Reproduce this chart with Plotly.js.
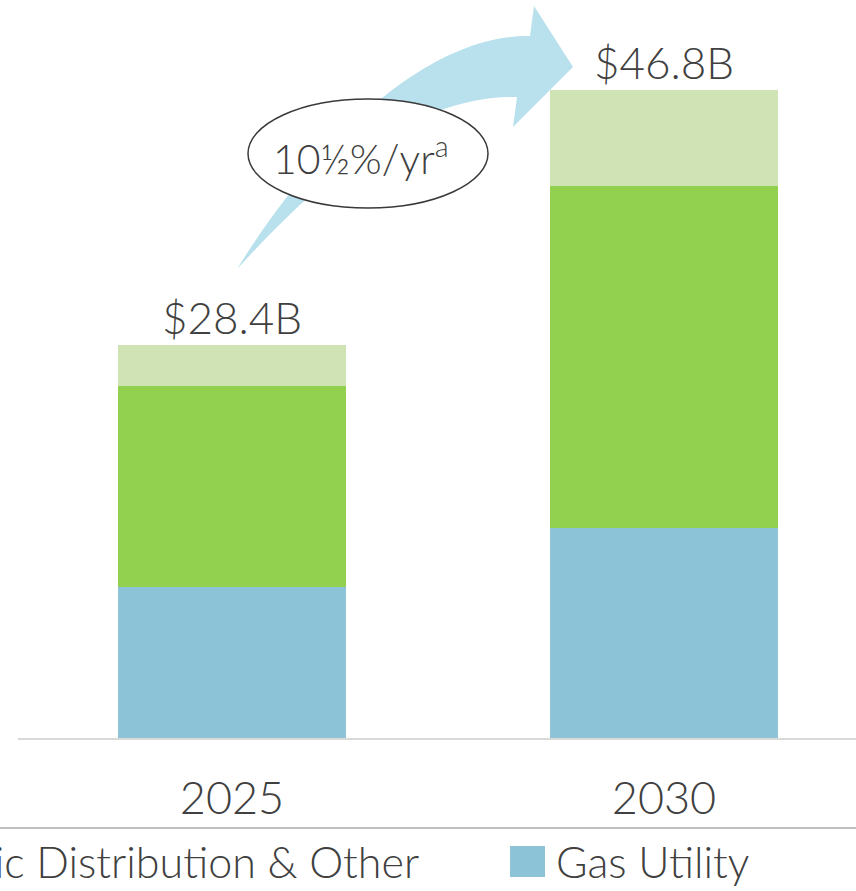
<!DOCTYPE html>
<html>
<head>
<meta charset="utf-8">
<script src="https://cdn.plot.ly/plotly-3.0.1.min.js"></script>
<style>
  html, body { margin: 0; padding: 0; background: #ffffff; overflow: hidden; }
  #chart { width: 856px; height: 891px; }
</style>
</head>
<body>
<div id="chart"></div>
<script>
// ---- data ----
const categories = ['2025', '2030'];
const seriesNames = ['Gas Utility', 'Electric Distribution & Other', 'Electric Transmission'];
const gasUtility = [10.9, 15.2];
const elecDistOther = [14.5, 24.7];
const elecTop = [3.0, 6.9];
const cagrLabel = '10½%/yr<sup>a</sup>';

// ---- styles ----
const colors = ['#8DC3D7', '#92D050', '#CFE3B5'];
const textColor = '#404040';
const fontFamily = 'Lato, "Open Sans", sans-serif';

const W = 856, H = 891;
const M = {l: 18, r: 0, t: 0, b: 153};
const plotW = W - M.l - M.r, plotH = H - M.t - M.b;
const px2x = p => (p - M.l) / plotW;
const py2y = p => (M.t + plotH - p) / plotH;

const seriesValues = [gasUtility, elecDistOther, elecTop];
const totals = categories.map((c, i) => seriesValues.reduce((s, arr) => s + arr[i], 0));

const traces = seriesValues.map((vals, k) => ({
  type: 'bar',
  x: categories,
  y: vals,
  name: seriesNames[k],
  width: 0.528,
  marker: {color: colors[k], line: {width: 0}},
  hoverinfo: 'skip'
}));

const annotations = [];
categories.forEach((c, i) => {
  annotations.push({
    x: i, y: totals[i], xref: 'x', yref: 'y',
    text: '&#36;' + totals[i].toFixed(1) + 'B',
    showarrow: false, xanchor: 'center', yanchor: 'bottom', yshift: 0,
    font: {family: fontFamily, size: 44, color: textColor, weight: 300}
  });
});
// CAGR label
annotations.push({
  x: px2x(361), y: py2y(156), xref: 'paper', yref: 'paper',
  text: cagrLabel, showarrow: false, xanchor: 'center', yanchor: 'middle',
  font: {family: fontFamily, size: 41, color: textColor, weight: 300}
});
// legend (clipped at left edge as in the reference)
annotations.push({
  x: px2x(421), y: py2y(861), xref: 'paper', yref: 'paper',
  text: seriesNames[1], showarrow: false, xanchor: 'right', yanchor: 'middle',
  font: {family: fontFamily, size: 43, color: textColor, weight: 300}
});
annotations.push({
  x: px2x(554), y: py2y(861), xref: 'paper', yref: 'paper',
  text: seriesNames[0], showarrow: false, xanchor: 'left', yanchor: 'middle',
  font: {family: fontFamily, size: 43, color: textColor, weight: 300}
});

const pt = (x, y) => px2x(x).toFixed(5) + ',' + py2y(y).toFixed(5);
const arrowPath =
  'M ' + pt(237, 269) +
  ' C ' + pt(320, 180) + ' ' + pt(410, 95) + ' ' + pt(517, 97) +
  ' L ' + pt(513, 127) +
  ' L ' + pt(573, 67) +
  ' L ' + pt(534, 6) +
  ' L ' + pt(530, 36) +
  ' C ' + pt(440, 34) + ' ' + pt(330, 120) + ' ' + pt(237, 269) + ' Z';

const shapes = [
  {type: 'path', xref: 'paper', yref: 'paper', path: arrowPath,
   fillcolor: '#B8E0ED', line: {width: 0}, layer: 'above'},
  {type: 'circle', xref: 'paper', yref: 'paper',
   x0: px2x(248), x1: px2x(488), y0: py2y(208), y1: py2y(99),
   fillcolor: '#ffffff', line: {color: '#3a3a3a', width: 1.5}, layer: 'above'},
  {type: 'line', xref: 'paper', yref: 'paper',
   x0: px2x(0), x1: px2x(W), y0: py2y(828), y1: py2y(828),
   line: {color: '#bfbfbf', width: 2}},
  {type: 'rect', xref: 'paper', yref: 'paper',
   x0: px2x(510), x1: px2x(545), y0: py2y(877), y1: py2y(846),
   fillcolor: colors[0], line: {width: 0}}
];

const layout = {
  width: W, height: H,
  margin: M,
  paper_bgcolor: '#ffffff', plot_bgcolor: '#ffffff',
  barmode: 'stack',
  showlegend: false,
  xaxis: {
    type: 'category',
    range: [-0.4954, 1.4444],
    showline: true, linecolor: '#d9d9d9', linewidth: 2,
    showgrid: false, zeroline: false, ticks: '',
    tickfont: {family: fontFamily, size: 45, color: textColor, weight: 300},
    ticklabelstandoff: 20,
    fixedrange: true
  },
  yaxis: {
    range: [0, plotH / 13.845],
    visible: false, showgrid: false, zeroline: false, fixedrange: true
  },
  annotations: annotations,
  shapes: shapes
};

Plotly.newPlot('chart', traces, layout, {displayModeBar: false, staticPlot: true});
</script>
</body>
</html>
